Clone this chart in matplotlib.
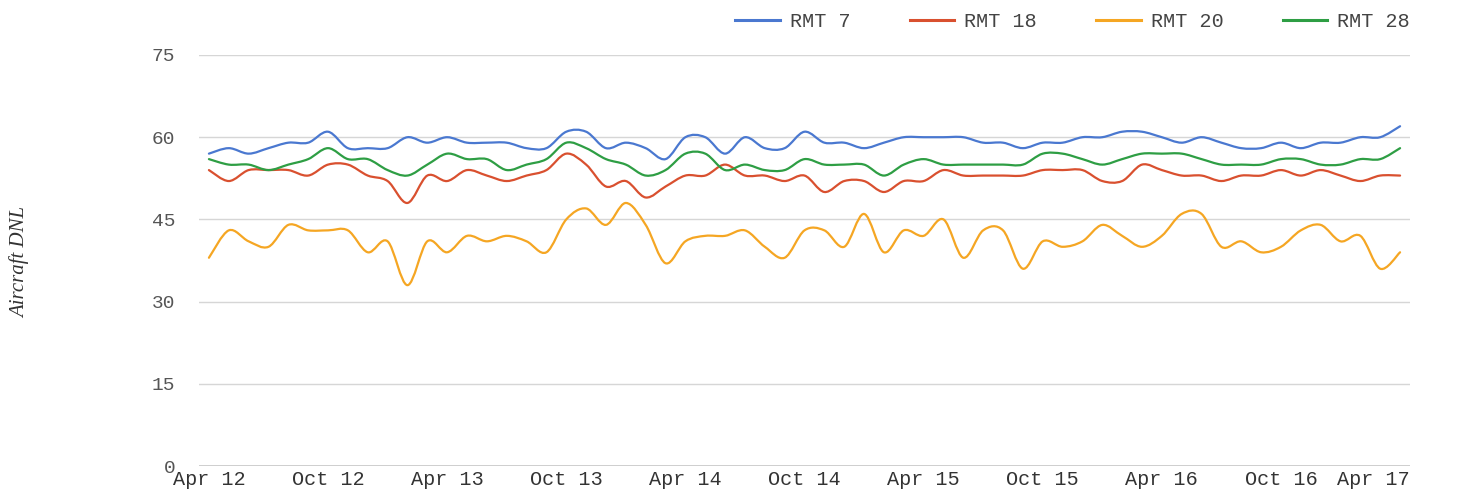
import matplotlib
matplotlib.use("Agg")
import matplotlib.pyplot as plt
from matplotlib.path import Path
from matplotlib.patches import PathPatch
from matplotlib.lines import Line2D
import matplotlib.transforms as mtransforms
import numpy as np

tick_labels = ["Apr 12", "Oct 12", "Apr 13", "Oct 13", "Apr 14", "Oct 14",
               "Apr 15", "Oct 15", "Apr 16", "Oct 16", "Apr 17"]
series_names = ["RMT 7", "RMT 18", "RMT 20", "RMT 28"]

rmt7 = [57, 58, 57, 58, 59, 59, 61, 58, 58, 58, 60, 59, 60, 59, 59, 59,
        58, 58, 61, 61, 58, 59, 58, 56, 60, 60, 57, 60, 58, 58, 61,
        59, 59, 58, 59, 60, 60, 60, 60, 59, 59, 58, 59, 59, 60, 60,
        61, 61, 60, 59, 60, 59, 58, 58, 59, 58, 59, 59, 60, 60, 62]
rmt18 = [54, 52, 54, 54, 54, 53, 55, 55, 53, 52, 48, 53, 52, 54, 53, 52,
         53, 54, 57, 55, 51, 52, 49, 51, 53, 53, 55, 53, 53, 52, 53,
         50, 52, 52, 50, 52, 52, 54, 53, 53, 53, 53, 54, 54, 54, 52,
         52, 55, 54, 53, 53, 52, 53, 53, 54, 53, 54, 53, 52, 53, 53]
rmt20 = [38, 43, 41, 40, 44, 43, 43, 43, 39, 41, 33, 41, 39, 42, 41, 42,
         41, 39, 45, 47, 44, 48, 44, 37, 41, 42, 42, 43, 40, 38, 43,
         43, 40, 46, 39, 43, 42, 45, 38, 43, 43, 36, 41, 40, 41, 44,
         42, 40, 42, 46, 46, 40, 41, 39, 40, 43, 44, 41, 42, 36, 39]
rmt28 = [56, 55, 55, 54, 55, 56, 58, 56, 56, 54, 53, 55, 57, 56, 56, 54,
         55, 56, 59, 58, 56, 55, 53, 54, 57, 57, 54, 55, 54, 54, 56,
         55, 55, 55, 53, 55, 56, 55, 55, 55, 55, 55, 57, 57, 56, 55,
         56, 57, 57, 57, 56, 55, 55, 55, 56, 56, 55, 55, 56, 56, 58]

colors = ["#4a78d0", "#d9502f", "#f5a623", "#2e9e44"]


def smooth_path(y):
    """Catmull-Rom style smooth path through the data points (Bezier)."""
    y = np.asarray(y, dtype=float)
    x = np.arange(len(y), dtype=float)
    pts = np.column_stack([x, y])
    n = len(pts)
    verts = [pts[0]]
    codes = [Path.MOVETO]
    k = 1.0 / 6.0
    for i in range(n - 1):
        p0 = pts[i - 1] if i > 0 else pts[i]
        p1 = pts[i]
        p2 = pts[i + 1]
        p3 = pts[i + 2] if i + 2 < n else pts[i + 1]
        c1 = p1 + (p2 - p0) * k
        c2 = p2 - (p3 - p1) * k
        verts += [c1, c2, p2]
        codes += [Path.CURVE4] * 3
    return Path(verts, codes)


fig = plt.figure(figsize=(14.58, 4.98), dpi=100)
ax = fig.add_axes([199 / 1458, 32 / 498, (1410 - 199) / 1458, (466 - 55) / 498])

for vals, c in zip([rmt7, rmt18, rmt20, rmt28], colors):
    patch = PathPatch(smooth_path(vals), facecolor="none", edgecolor=c,
                      lw=1.6, capstyle="round", joinstyle="round", zorder=3)
    ax.add_patch(patch)

n = len(rmt7)
ax.set_xlim(-0.5, n - 0.5)
ax.set_ylim(0, 75)
ax.set_yticks([0, 15, 30, 45, 60, 75])
ax.set_xticks(np.arange(0, n, 6))
ax.set_xticklabels(tick_labels)
for s in ax.spines.values():
    s.set_visible(False)
ax.grid(axis="y", color="#d6d6d6", lw=1.0)
ax.axhline(0, color="#333333", lw=1.0, zorder=4)
ax.tick_params(axis="both", length=0)
ax.tick_params(axis="y", pad=17, labelsize=14, labelcolor="#555555")
ax.tick_params(axis="x", pad=3, labelsize=14.5, labelcolor="#333333")
for lab in ax.get_yticklabels() + ax.get_xticklabels():
    lab.set_fontfamily("Liberation Mono")
xl = ax.get_xticklabels()
xl[-1].set_horizontalalignment("right")
xl[-1].set_transform(xl[-1].get_transform() + mtransforms.ScaledTranslation(10 / 100, 0, fig.dpi_scale_trans))

fig.text(20 / 1458, 1 - 262 / 498, "Aircraft DNL", rotation=90, ha="center", va="center",
         fontsize=15, fontstyle="italic", family="Liberation Serif", color="#333333")

handles = [Line2D([0], [0], color=c, lw=2.2) for c in colors]
leg = fig.legend(handles, series_names, loc="upper right", bbox_to_anchor=(1428 / 1458, 1.012),
                 ncol=4, frameon=False, handlelength=2.2, handletextpad=0.5,
                 columnspacing=2.95, prop={"family": "Liberation Mono", "size": 14.5})
for t in leg.get_texts():
    t.set_color("#444444")

fig.savefig("out.png", dpi=100, facecolor="white")
